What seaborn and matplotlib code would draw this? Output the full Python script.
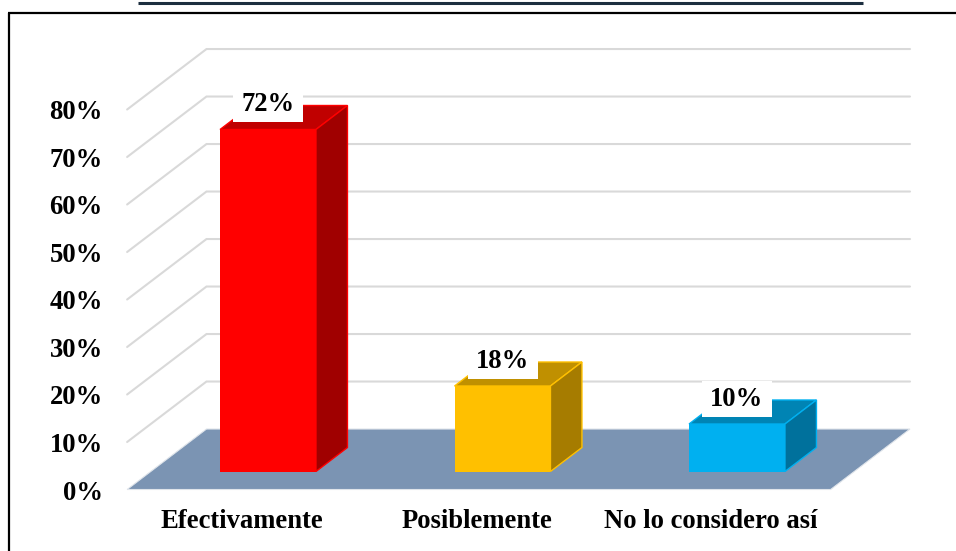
import matplotlib
matplotlib.use("Agg")
import matplotlib.pyplot as plt
import seaborn as sns
import pandas as pd
from matplotlib.lines import Line2D
from matplotlib.patches import Polygon, Rectangle
from matplotlib.transforms import ScaledTranslation

categories = ["Efectivamente", "Posiblemente", "No lo considero así"]
values = [72, 18, 10]
labels = ["72%", "18%", "10%"]
y_ticks = [0, 10, 20, 30, 40, 50, 60, 70, 80]
front_colors = ["#ff0000", "#ffc000", "#00b0f0"]
top_colors = ["#c00000", "#c09000", "#0084b4"]
side_colors = ["#a00000", "#a67c00", "#00719c"]
floor_color = "#7b94b3"
grid_color = "#d9d9d9"

W, H = 956, 551
DPI = 100
LEFT, RIGHT, BASE, TOP = 150.75, 854.25, 471.5, 91.5
BAR_WIDTH = 0.409
FONT = 19.2
# depth projection, in data units per unit of bar depth
KX = 31.5 / 234.5
KY = 24 / 4.75
FLOOR_FRONT, FLOOR_BACK = -0.75, 1.77
# white label box, in data units
BOX_W, BOX_H, BOX_GAP = 70 / 234.5, 36 / 4.75, 7 / 4.75


def proj(x, y, d):
    return (x + d * KX, y + d * KY)


sns.set_theme(style="white")
plt.rcParams["font.family"] = ["Liberation Serif", "DejaVu Serif"]
plt.rcParams["font.weight"] = "bold"

fig = plt.figure(figsize=(W / DPI, H / DPI), dpi=DPI)
ax = fig.add_axes([LEFT / W, 1 - BASE / H, (RIGHT - LEFT) / W, (BASE - TOP) / H])
ax.patch.set_alpha(0)

df = pd.DataFrame({"cat": categories, "val": values})
sns.barplot(data=df, x="cat", y="val", hue="cat", palette=front_colors,
            width=BAR_WIDTH, saturation=1, dodge=False, legend=False,
            edgecolor="none", zorder=4, ax=ax)
ax.set_xlim(-0.5, 2.5)
ax.set_ylim(0, 80)
ax.set_xlabel("")
ax.set_ylabel("")

# back wall and side wall gridlines
for t in y_ticks[1:]:
    pts = [proj(-0.5, t, FLOOR_FRONT), proj(-0.5, t, FLOOR_BACK), proj(2.5, t, FLOOR_BACK)]
    ax.plot(*zip(*pts), color=grid_color, lw=1.5, clip_on=False, zorder=1,
            solid_joinstyle="miter")

# floor
floor = [proj(-0.5, 0, FLOOR_FRONT), proj(2.5, 0, FLOOR_FRONT),
         proj(2.5, 0, FLOOR_BACK), proj(-0.5, 0, FLOOR_BACK)]
ax.add_patch(Polygon(floor, closed=True, facecolor=floor_color, edgecolor="#dfe4ea",
                     lw=0.8, clip_on=False, zorder=2))

# bar depth faces and value labels
for i, v in enumerate(values):
    x0, x1 = i - BAR_WIDTH / 2, i + BAR_WIDTH / 2
    top = [proj(x0, v, 0), proj(x1, v, 0), proj(x1, v, 1), proj(x0, v, 1)]
    side = [proj(x1, 0, 0), proj(x1, v, 0), proj(x1, v, 1), proj(x1, 0, 1)]
    ax.add_patch(Polygon(top, closed=True, facecolor=top_colors[i], edgecolor=front_colors[i],
                         lw=1, clip_on=False, zorder=3))
    ax.add_patch(Polygon(side, closed=True, facecolor=side_colors[i], edgecolor=front_colors[i],
                         lw=1, clip_on=False, zorder=3))
    ax.add_patch(Rectangle((i - BOX_W / 2, v + BOX_GAP), BOX_W, BOX_H, facecolor="white",
                           edgecolor="none", clip_on=False, zorder=5))
    ax.annotate(labels[i], xy=(i, v), xytext=(0, 24.5 / DPI * 72), textcoords="offset points",
                ha="center", va="center", fontsize=FONT, fontweight="bold", color="black",
                zorder=6, annotation_clip=False)

# ticks sit on the front edge of the floor
ax.set_yticks(y_ticks)
ax.set_yticklabels([f"{t}%" for t in y_ticks], fontsize=FONT, fontweight="bold", color="black")
ax.tick_params(axis="y", length=0, pad=0)
ax.tick_params(axis="x", length=0, pad=0)
ax.set_xticks(range(len(categories)))
ax.set_xticklabels(categories, fontsize=FONT, fontweight="bold", color="black")
y_shift = ScaledTranslation(-48 / DPI, -18.5 / DPI, fig.dpi_scale_trans)
x_shift = ScaledTranslation(-26 / DPI, -38 / DPI, fig.dpi_scale_trans)
for lab in ax.get_yticklabels():
    lab.set_transform(lab.get_transform() + y_shift)
for lab in ax.get_xticklabels():
    lab.set_transform(lab.get_transform() + x_shift)
sns.despine(ax=ax, left=True, bottom=True)

# outer frame and clipped rule above
fig.add_artist(Line2D([8.5 / W, 8.5 / W], [0, 1 - 13 / H], color="black", lw=1.6,
                      solid_capstyle="butt"))
fig.add_artist(Line2D([8 / W, 1], [1 - 13 / H, 1 - 13 / H], color="black", lw=1.6,
                      solid_capstyle="butt"))
fig.add_artist(Line2D([138 / W, 863 / W], [1 - 2.5 / H, 1 - 2.5 / H], color="#1c2e3f", lw=2.2,
                      solid_capstyle="butt"))

fig.savefig("out.png", dpi=DPI)
